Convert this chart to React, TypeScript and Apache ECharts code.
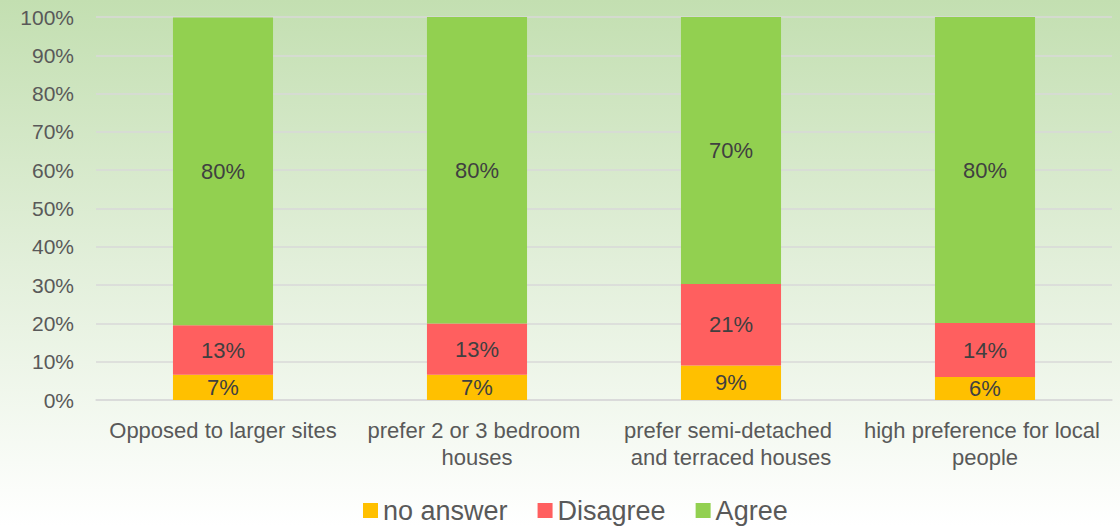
import React, { useEffect, useRef } from "react";
import * as echarts from "echarts";

const categories = [
  "Opposed to larger sites",
  "prefer 2 or 3 bedroom houses",
  "prefer semi-detached and terraced houses",
  "high preference for local people",
];
const noAnswer = [6.6, 6.6, 9.0, 6.0];
const disagree = [12.9, 13.4, 21.3, 14.1];
const agree = [80.4, 80.0, 69.7, 79.9];
const seriesNames = ["no answer", "Disagree", "Agree"];
const colors = ["#FFC000", "#FF5F5F", "#92D050"];

const FONT = "'Liberation Sans', Arial, sans-serif";

export default function App() {
  const ref = useRef<HTMLDivElement>(null);
  useEffect(() => {
    if (!ref.current) return;
    const chart = echarts.init(ref.current, null, { renderer: "svg" });
    const data = [noAnswer, disagree, agree];
    chart.setOption({
      animation: false,
      backgroundColor: new echarts.graphic.LinearGradient(0, 0, 0, 1, [
        { offset: 0, color: "#C3DFB1" },
        { offset: 0.5, color: "#E2EFDA" },
        { offset: 1, color: "#FFFFFF" },
      ]),
      textStyle: { fontFamily: FONT },
      grid: { left: 96, right: 8, top: 17, bottom: 126, containLabel: false },
      legend: {
        bottom: -3,
        left: 358,
        itemWidth: 15,
        itemHeight: 15,
        itemGap: 30,
        icon: "rect",
        textStyle: { fontSize: 27, color: "#595959", fontFamily: FONT },
        data: seriesNames,
      },
      xAxis: {
        type: "category",
        data: categories,
        axisTick: { show: false },
        axisLine: { lineStyle: { color: "#D9D9D9", width: 1.5 } },
        axisLabel: {
          fontSize: 22,
          color: "#595959",
          margin: 17,
          lineHeight: 27,
          width: 250,
          overflow: "break",
          interval: 0,
          fontFamily: FONT,
        },
      },
      yAxis: {
        type: "value",
        min: 0,
        max: 100,
        interval: 10,
        axisLine: { show: false },
        axisTick: { show: false },
        splitLine: { lineStyle: { color: "#D9D9D9", width: 1.5 } },
        axisLabel: {
          fontSize: 21,
          color: "#595959",
          margin: 22,
          formatter: (v: number) => `${v}%`,
          fontFamily: FONT,
        },
      },
      series: seriesNames.map((name, i) => ({
        name,
        type: "bar",
        stack: "total",
        barWidth: "39.4%",
        itemStyle: { color: colors[i] },
        label: {
          show: true,
          position: "inside",
          fontSize: 22,
          color: "#404040",
          fontFamily: FONT,
          formatter: (p: any) => `${Math.round(p.value)}%`,
        },
        data: data[i],
      })),
    });
    return () => chart.dispose();
  }, []);
  return (
    <div
      ref={ref}
      style={{ position: "fixed", left: 0, top: 0, width: 1120, height: 526 }}
    />
  );
}
